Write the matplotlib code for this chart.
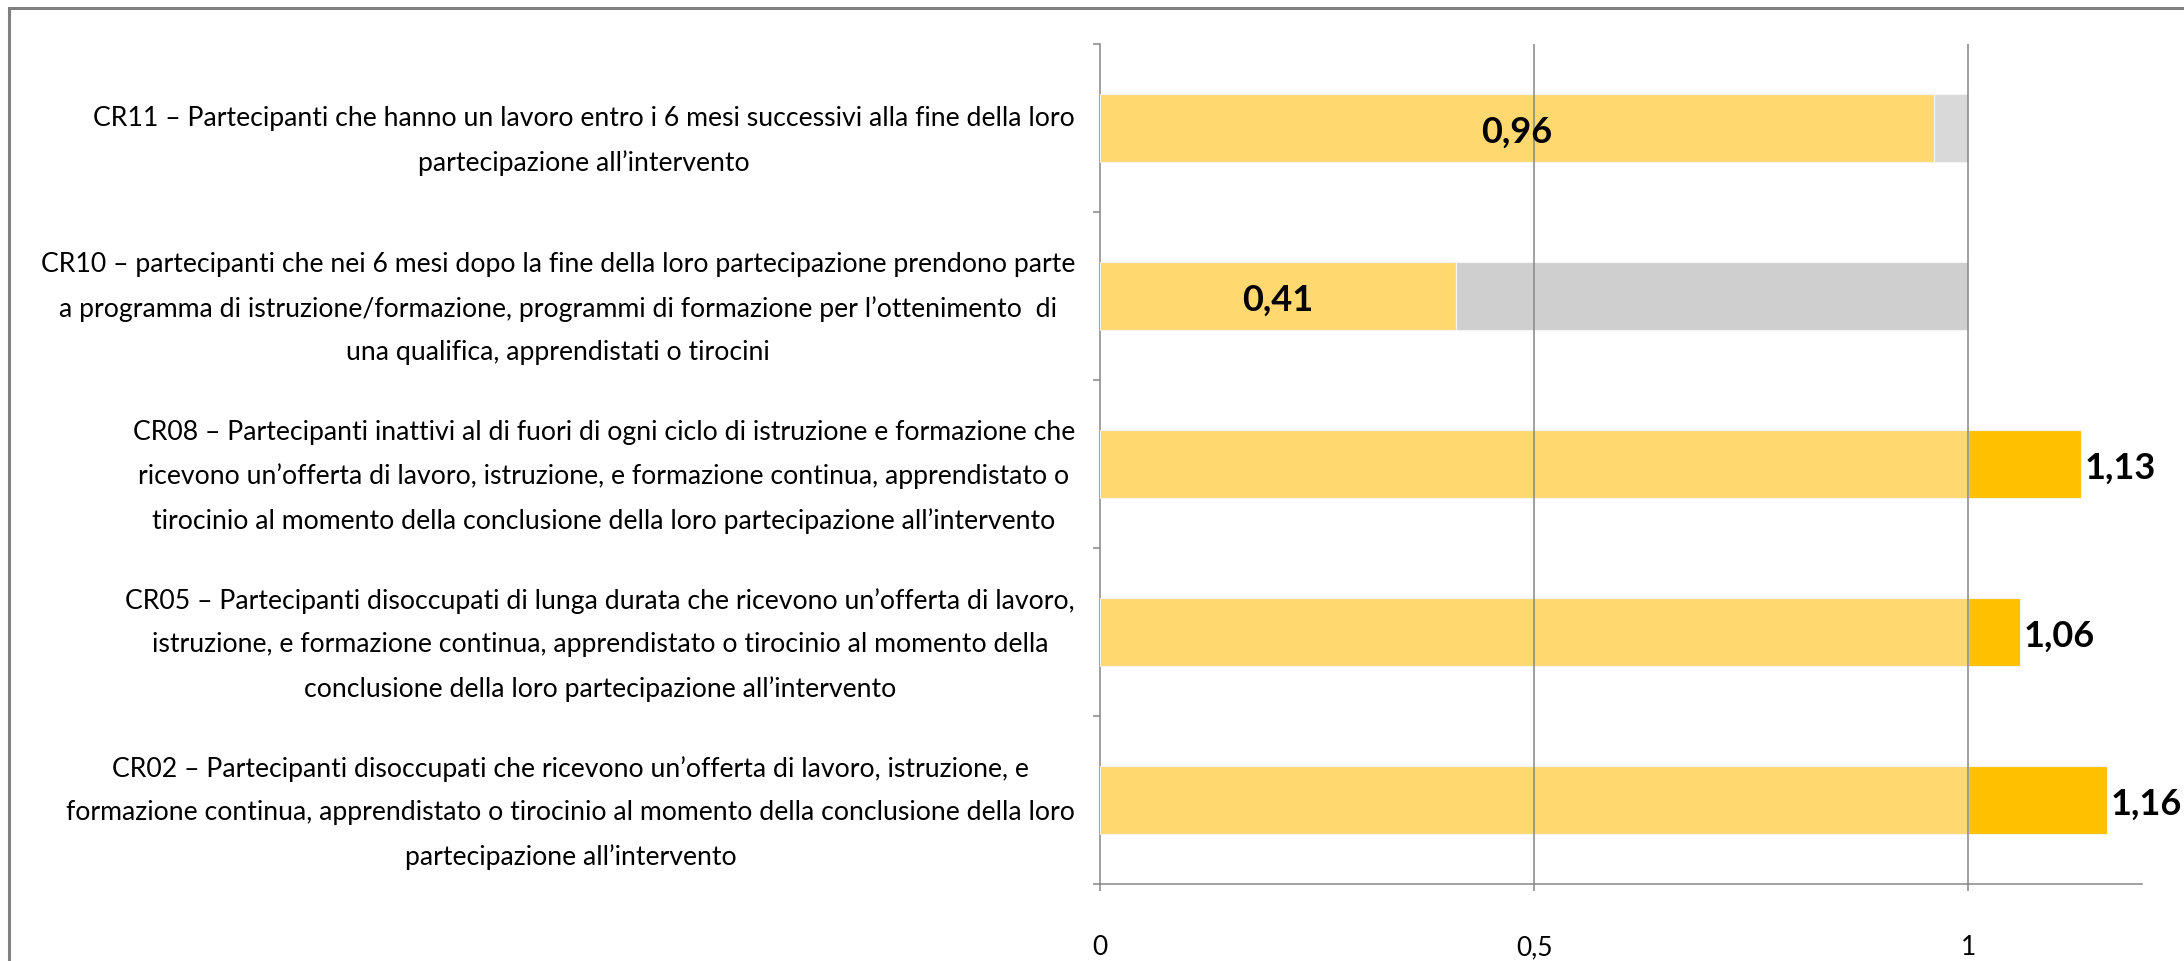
"""Indicator achievement bar chart (value vs target = 1)."""

import matplotlib
matplotlib.use("Agg")
import matplotlib.pyplot as plt
from matplotlib.patches import Rectangle

plt.rcParams["font.family"] = ["Lato", "DejaVu Sans"]

# categories, top to bottom
labels = [
    "CR11 \u2013 Partecipanti che hanno un lavoro entro i 6 mesi successivi alla fine della loro\n"
    "partecipazione all\u2019intervento",
    "CR10 \u2013 partecipanti che nei 6 mesi dopo la fine della loro partecipazione prendono parte\n"
    "a programma di istruzione/formazione, programmi di formazione per l\u2019ottenimento  di\n"
    "una qualifica, apprendistati o tirocini",
    "CR08 \u2013 Partecipanti inattivi al di fuori di ogni ciclo di istruzione e formazione che\n"
    "ricevono un\u2019offerta di lavoro, istruzione, e formazione continua, apprendistato o\n"
    "tirocinio al momento della conclusione della loro partecipazione all\u2019intervento",
    "CR05 \u2013 Partecipanti disoccupati di lunga durata che ricevono un\u2019offerta di lavoro,\n"
    "istruzione, e formazione continua, apprendistato o tirocinio al momento della\n"
    "conclusione della loro partecipazione all\u2019intervento",
    "CR02 \u2013 Partecipanti disoccupati che ricevono un\u2019offerta di lavoro, istruzione, e\n"
    "formazione continua, apprendistato o tirocinio al momento della conclusione della loro\n"
    "partecipazione all\u2019intervento",
]
values = [0.96, 0.41, 1.13, 1.06, 1.16]
value_text = ["0,96", "0,41", "1,13", "1,06", "1,16"]
target = 1.0
xticks = [0, 0.5, 1]
xtick_labels = ["0", "0,5", "1"]

c_base = "#FFD96F"
c_over = "#FFC000"
c_gap = ["#D9D9D9", "#CFCFCF", "#D9D9D9", "#D9D9D9", "#D9D9D9"]
c_grid = "#868686"

fig = plt.figure(figsize=(21.84, 9.62), dpi=100)
ax = fig.add_axes([1100 / 2184, 1 - 885 / 962, 1042 / 2184, 840 / 962])

n = len(labels)
ypos = list(range(n))[::-1]
base = [min(v, target) for v in values]
over = [max(v - target, 0) for v in values]
gap = [max(target - v, 0) for v in values]

h = 0.4
ax.barh(ypos, base, height=h, color=c_base, edgecolor="#F4F4F4", linewidth=0.8, zorder=3)
ax.barh(ypos, over, left=base, height=h, color=c_over, edgecolor="#F4F4F4", linewidth=0.8, zorder=3)
ax.barh(ypos, gap, left=base, height=h, color=c_gap, edgecolor="#F4F4F4", linewidth=0.8, zorder=3)

for y, v, t in zip(ypos, values, value_text):
    if v < target:
        ax.text(v / 2, y - 0.02, t, ha="center", va="center", fontsize=26,
                fontweight="bold", zorder=5)
    else:
        ax.text(v + 0.004, y - 0.02, t, ha="left", va="center", fontsize=26,
                fontweight="bold", zorder=5)

ax.set_xlim(0, 1.2)
ax.set_ylim(-0.5, n - 0.5)

ax.set_xticks(xticks)
ax.set_xticklabels(xtick_labels, fontsize=19)
ax.tick_params(axis="x", length=5, width=1.1, color=c_grid, pad=31)

ax.set_yticks(ypos)
ax.set_yticklabels(labels, fontsize=19.2, multialignment="center", linespacing=1.9)
ax.tick_params(axis="y", which="major", length=0, pad=18)
ax.set_yticks([i - 0.5 for i in range(n + 1)], minor=True)
ax.tick_params(axis="y", which="minor", length=5, width=1.1, color=c_grid)

for x in xticks[1:]:
    ax.axvline(x, color=c_grid, linewidth=1.1, zorder=4)

for side in ["top", "right"]:
    ax.spines[side].set_visible(False)
for side in ["left", "bottom"]:
    ax.spines[side].set_color(c_grid)
    ax.spines[side].set_linewidth(1.1)

# chart area border (only top/left edges fall inside the picture)
fig.patches.append(Rectangle((9 / 2184, -0.1), 1.2, 1.1 - 9 / 962,
                             transform=fig.transFigure, fill=False,
                             edgecolor="#808080", linewidth=2.2))

fig.savefig("out.png", dpi=100)
plt.close(fig)
